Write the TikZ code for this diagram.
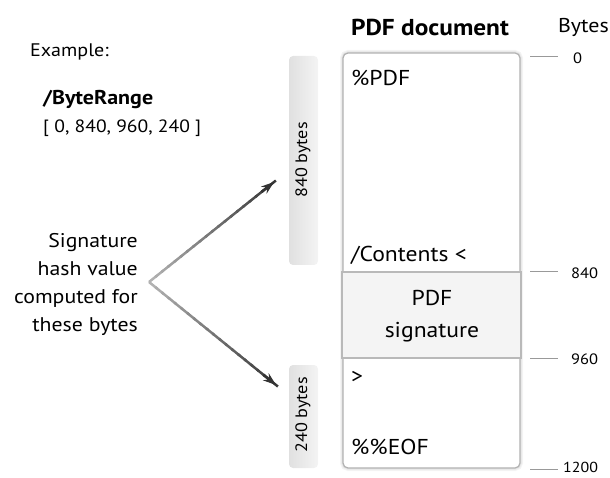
\documentclass[tikz,border=0pt]{standalone}
\usepackage{fontspec}
\setmainfont{PT Sans}[FakeStretch=1.1]
\usetikzlibrary{calc,arrows.meta}
\begin{document}
\begin{tikzpicture}[x=1pt,y=-1pt,
  txt/.style={inner sep=0pt,font=\fontsize{21.5}{24}\selectfont},
  hdr/.style={inner sep=0pt,font=\bfseries\fontsize{23}{26}\selectfont},
  sidebar/.style={rounded corners=4pt,left color=gray!24,right color=gray!9,draw=none},
  sidelab/.style={inner sep=0pt,rotate=90,font=\fontsize{16.5}{18}\selectfont},
  tickline/.style={draw=gray!80,line width=1pt},
  ticklab/.style={inner sep=0pt,anchor=west,font=\fontsize{15}{17}\selectfont}]
\useasboundingbox (0,0) rectangle (610,478);
\clip (0,0) rectangle (610,478);
% left texts
\node[inner sep=0pt,anchor=west,font=\fontsize{18.2}{20}\selectfont] (ex) at (30,52) {Example:};
\node[inner sep=0pt,anchor=west,font=\bfseries\fontsize{20}{22}\selectfont] (br) at (43,100) {/ByteRange};
\node[inner sep=0pt,anchor=west,font=\fontsize{17.8}{20}\selectfont] (arr) at (43,128) {[ 0, 840, 960, 240 ]};
\node[inner sep=0pt,anchor=east,align=right,font=\fontsize{19.8}{28}\selectfont] (sig) at (138,284) {Signature\\hash value\\computed for\\these bytes};
% headers
\node[hdr] (pdfdoc) at (430,27) {PDF document};
\node[inner sep=0pt,anchor=east,font=\fontsize{20}{22}\selectfont] (bytes) at (609,27) {Bytes};
% side bars
\draw[sidebar] (289,56) rectangle (318,265);
\node[sidelab] (b840) at (303,160) {840 bytes};
\draw[sidebar] (289,365) rectangle (318,468);
\node[sidelab] (b240) at (303,415) {240 bytes};
% main box shadow and box
\foreach \w/\c in {6/8,4/14,2.5/22}{
  \draw[gray!\c,line width=\w pt,rounded corners=5pt] (343,53) rectangle (520,468);}
\draw[fill=white,draw=gray!60,line width=1.2pt,rounded corners=5pt] (343,53) rectangle (520,468);
% signature box
\draw[fill=gray!9,draw=gray!55,line width=1.8pt] (342,272) rectangle (521,358);
\node[txt,align=center,font=\fontsize{21.5}{32}\selectfont] (pdfsig) at (432,316) {PDF\\signature};
% contents
\node[txt,anchor=west] (pct) at (351,78) {\%PDF};
\node[txt,anchor=west] (cont) at (351,255) {/Contents <};
\node[txt,anchor=west] (gt) at (351,377) {>};
\node[txt,anchor=west] (eof) at (351,447) {\%\%EOF};
% ticks
\coordinate (t0a) at (530,57); \coordinate (t0b) at (558,57);
\coordinate (t1a) at (530,272); \coordinate (t1b) at (558,272);
\coordinate (t2a) at (530,358); \coordinate (t2b) at (558,358);
\coordinate (t3a) at (530,469); \coordinate (t3b) at (558,469);
\draw[tickline] (t0a) -- (t0b); \draw[tickline] (t1a) -- (t1b);
\draw[tickline] (t2a) -- (t2b); \draw[tickline] (t3a) -- (t3b);
\node[ticklab] (l0) at (573,58) {0};
\node[ticklab] (l1) at (571,273) {840};
\node[ticklab] (l2) at (571,359) {960};
\node[ticklab,font=\fontsize{14.5}{16}\selectfont] (l3) at (563,467) {1200};
% arrows with gradient
\coordinate (v) at (149,282);
\coordinate (up) at (274,182);
\coordinate (dn) at (276,385);
\foreach \e in {up,dn}{
  \foreach \i in {0,...,19}{
    \pgfmathsetmacro{\a}{\i/20}
    \pgfmathsetmacro{\b}{(\i+1.3)/20}
    \pgfmathsetmacro{\c}{30+2.5*\i}
    \draw[black!\c,line width=2.5pt] ($(v)!\a!(\e)$) -- ($(v)!\b!(\e)$);
  }
  \draw[black!80,line width=2.5pt,-{Stealth[length=13pt,width=9pt]}] ($(v)!0.9!(\e)$) -- (\e);
}
\end{tikzpicture}
\end{document}
